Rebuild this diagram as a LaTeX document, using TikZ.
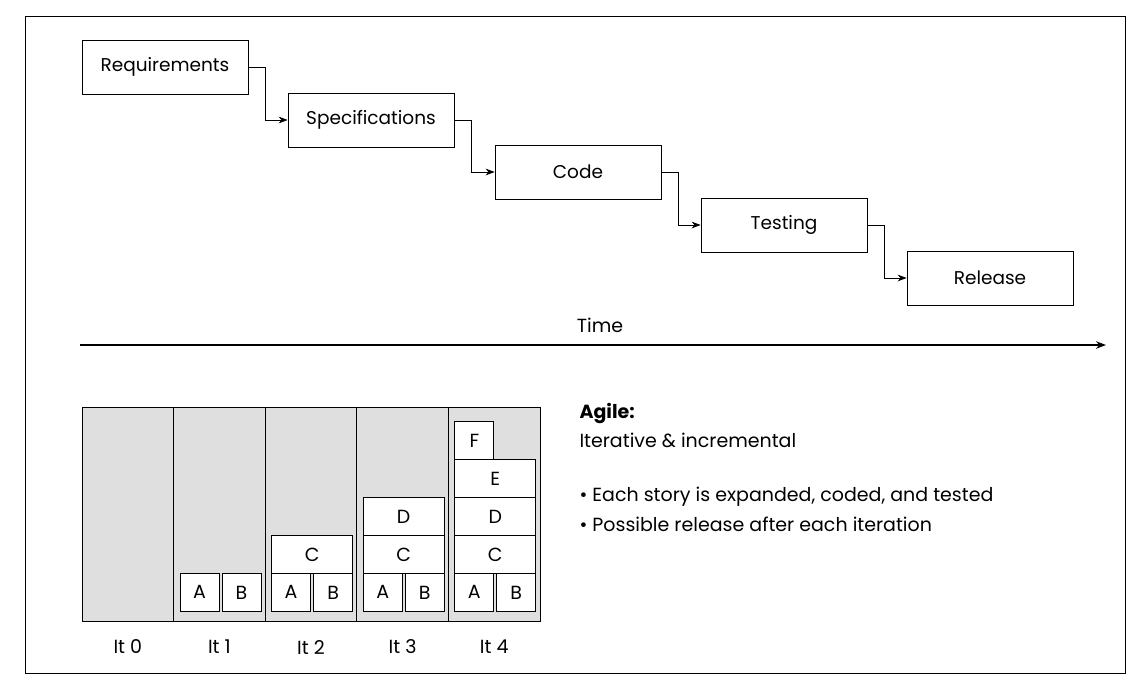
\documentclass[tikz,border=0pt]{standalone}
\usepackage{fontspec}
\setmainfont{Poppins}
\usetikzlibrary{arrows.meta}
\begin{document}
\begin{tikzpicture}[x=1pt,y=-1pt,
  stage/.style={draw,thick,minimum width=166pt,minimum height=54pt,font=\fontsize{18.5}{22}\selectfont},
  flow/.style={-{Stealth[length=9pt]},thick},
  story/.style={draw,thick,fill=white,minimum width=39pt,minimum height=38pt,inner sep=0pt,font=\fontsize{19}{22}\selectfont},
  wide/.style={story,minimum width=81pt},
  lbl/.style={font=\fontsize{19}{22}\selectfont}]
  \useasboundingbox (0,0) rectangle (1135,681);
  \draw[thick] (25,16) rectangle (1125,673);
  % waterfall
  \node[stage] (req) at (165,67) {Requirements};
  \node[stage] (spec) at (371,120) {Specifications};
  \node[stage] (code) at (578,172) {Code};
  \node[stage] (test) at (784,225) {Testing};
  \node[stage] (rel) at (990,278) {Release};
  \draw[flow] (req.east) -| +(17,0) |- (spec.west);
  \draw[flow] (spec.east) -| +(17,0) |- (code.west);
  \draw[flow] (code.east) -| +(17,0) |- (test.west);
  \draw[flow] (test.east) -| +(17,0) |- (rel.west);
  \coordinate (t0) at (80,345);
  \coordinate (t1) at (1106,345);
  \draw[-{Stealth[length=10pt]},line width=1.6pt] (t0) -- (t1);
  \node[lbl] (time) at (600,325) {Time};
  % iterations
  \draw[thick,fill=gray!25] (82,407) rectangle (540,621);
  \foreach \i in {1,...,4}
    \draw[thick] (82+\i*91.6,407) -- (82+\i*91.6,621);
  \foreach \i in {0,...,4}
    \node[lbl] (it\i) at (127.8+\i*91.6,647) {It \i};
  \foreach \i in {1,...,4} {
    \node[story,anchor=north west] (a\i) at (82+\i*91.6+6,573) {A};
    \node[story,anchor=north west] (b\i) at (82+\i*91.6+48,573) {B};
  }
  \foreach \i in {2,...,4}
    \node[wide,anchor=north west] (c\i) at (82+\i*91.6+6,535) {C};
  \foreach \i in {3,4}
    \node[wide,anchor=north west] (d\i) at (82+\i*91.6+6,497) {D};
  \node[wide,anchor=north west] (e4) at (82+4*91.6+6,459) {E};
  \node[story,anchor=north west] (f4) at (82+4*91.6+6,421) {F};
  % agile text
  \node[lbl,anchor=west] (agile) at (576,413) {\textbf{Agile:}};
  \node[lbl,anchor=west] (iter) at (576,440) {Iterative \& incremental};
  \node[lbl,anchor=west] (p1) at (576,497) {• Each story is expanded, coded, and tested};
  \node[lbl,anchor=west] (p2) at (576,524) {• Possible release after each iteration};
\end{tikzpicture}
\end{document}
